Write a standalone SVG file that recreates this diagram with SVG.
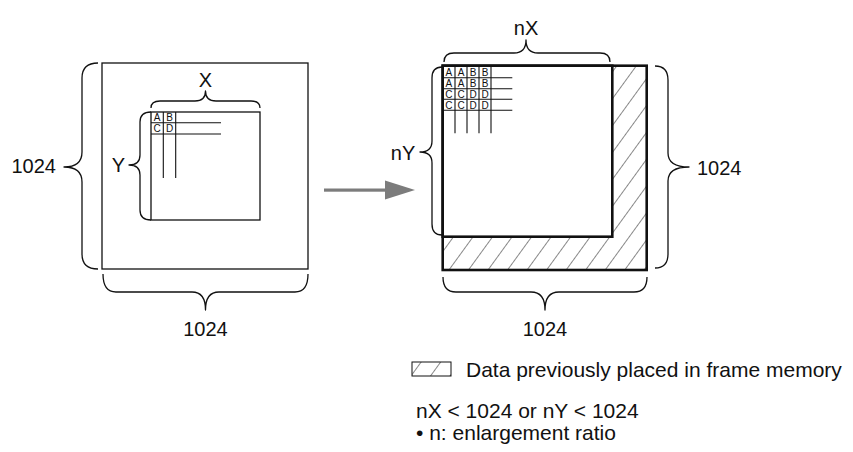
<svg xmlns="http://www.w3.org/2000/svg" width="853" height="452" viewBox="0 0 853 452">
<defs>
<style>
.t{font-family:"Liberation Sans",Arial,sans-serif;font-size:20px;fill:#111}
.l{font-family:"Liberation Sans",Arial,sans-serif;font-size:21px;fill:#111}
.c{font-family:"Liberation Sans",Arial,sans-serif;font-size:10px;fill:#111;text-anchor:middle}
.thin{fill:none;stroke:#111;stroke-width:1.3}
.thick{fill:none;stroke:#111;stroke-width:2.6}
.br{fill:none;stroke:#111;stroke-width:1.3;stroke-linejoin:round}
.g{fill:none;stroke:#111;stroke-width:1.1}
</style>
<pattern id="hatch" patternUnits="userSpaceOnUse" width="15.8" height="20" patternTransform="rotate(36)">
<line x1="0" y1="-2" x2="0" y2="22" stroke="#111" stroke-width="1"/>
</pattern>
</defs>
<rect width="853" height="452" fill="#fff"/>

<g id="source-frame">
<rect class="thin" x="102" y="63" width="206" height="206"/>
</g>

<g id="source-image">
<rect class="thin" x="151" y="112" width="109" height="108" fill="#fff"/>
<path class="g" d="M151,122.7 H221 M151,134 H221 M163.3,112 V178 M175.7,112 V178"/>
<text class="c" x="157.2" y="121">A</text>
<text class="c" x="169.5" y="121">B</text>
<text class="c" x="157.2" y="132.3">C</text>
<text class="c" x="169.5" y="132.3">D</text>
</g>

<g id="target-frame">
<rect x="442.7" y="65.7" width="204" height="204.3" fill="url(#hatch)"/>
<rect x="442.7" y="65.7" width="169.6" height="171" fill="#fff"/>
<rect class="thick" x="442.7" y="65.7" width="204" height="204.3"/>
<rect class="thick" x="442.7" y="65.7" width="169.6" height="171"/>
</g>

<g id="target-image">
<path class="g" d="M442.7,77.7 H512.3 M442.7,88.7 H512.3 M442.7,99.3 H512.3 M442.7,110.2 H512.3 M455,66.7 V133.3 M467,66.7 V133.3 M479,66.7 V133.3 M491,66.7 V133.3"/>
<text class="c" x="448.8" y="76.2">A</text>
<text class="c" x="461" y="76.2">A</text>
<text class="c" x="473" y="76.2">B</text>
<text class="c" x="485" y="76.2">B</text>
<text class="c" x="448.8" y="87.2">A</text>
<text class="c" x="461" y="87.2">A</text>
<text class="c" x="473" y="87.2">B</text>
<text class="c" x="485" y="87.2">B</text>
<text class="c" x="448.8" y="98">C</text>
<text class="c" x="461" y="98">C</text>
<text class="c" x="473" y="98">D</text>
<text class="c" x="485" y="98">D</text>
<text class="c" x="448.8" y="108.8">C</text>
<text class="c" x="461" y="108.8">C</text>
<text class="c" x="473" y="108.8">D</text>
<text class="c" x="485" y="108.8">D</text>
</g>

<g id="connectors">
<rect x="324" y="188.5" width="63" height="3.2" fill="#7c7c7c"/>
<polygon points="385,180.5 415,190 385,199.5" fill="#7c7c7c"/>
</g>

<g id="braces">
<path class="br" d="M98,63 Q82,63 82,78 L82,152 Q82,167 64,167 Q82,167 82,182 L82,254 Q82,269 98,269"/>
<path class="br" d="M151,112 Q140,112 140,122 L140,155 Q140,165 129,165 Q140,165 140,175 L140,210 Q140,220 151,220"/>
<path class="br" d="M151,108 Q151,101 160,101 L195,101 Q205.5,101 205.5,91 Q205.5,101 216,101 L251,101 Q260,101 260,108"/>
<path class="br" d="M103,274 Q103,292 116,292 L192,292 Q205.5,292 205.5,310 Q205.5,292 219,292 L295,292 Q308,292 308,274"/>
<path class="br" d="M444,62 Q444,53 454,53 L514,53 Q526,53 526,40 Q526,53 538,53 L600,53 Q610,53 610,62"/>
<path class="br" d="M442,67 Q432,67 432,78 L432,141 Q432,152 420,152 Q432,152 432,163 L432,224 Q432,235 442,235"/>
<path class="br" d="M655,66 Q668,66 668,80 L668,153 Q668,167 689,167 Q668,167 668,181 L668,254 Q668,268 655,268"/>
<path class="br" d="M443,277 Q443,292 456,292 L531,292 Q545,292 545,310 Q545,292 559,292 L634,292 Q647,292 647,277"/>
</g>

<g id="labels">
<text class="t" x="56" y="173" text-anchor="end">1024</text>
<text class="t" x="205.5" y="87" text-anchor="middle">X</text>
<text class="t" x="118.5" y="172" text-anchor="middle">Y</text>
<text class="t" x="205.5" y="336" text-anchor="middle">1024</text>
<text class="t" x="526" y="35" text-anchor="middle">nX</text>
<text class="t" x="403" y="160" text-anchor="middle">nY</text>
<text class="t" x="697" y="175">1024</text>
<text class="t" x="545" y="336" text-anchor="middle">1024</text>
</g>

<g id="legend">
<rect x="412" y="362" width="39" height="14" fill="url(#hatch)" stroke="#111" stroke-width="1"/>
<text class="l" x="466" y="377">Data previously placed in frame memory</text>
<text class="l" x="416" y="418">nX &lt; 1024 or nY &lt; 1024</text>
<text class="l" x="416" y="440">• n: enlargement ratio</text>
</g>
</svg>
